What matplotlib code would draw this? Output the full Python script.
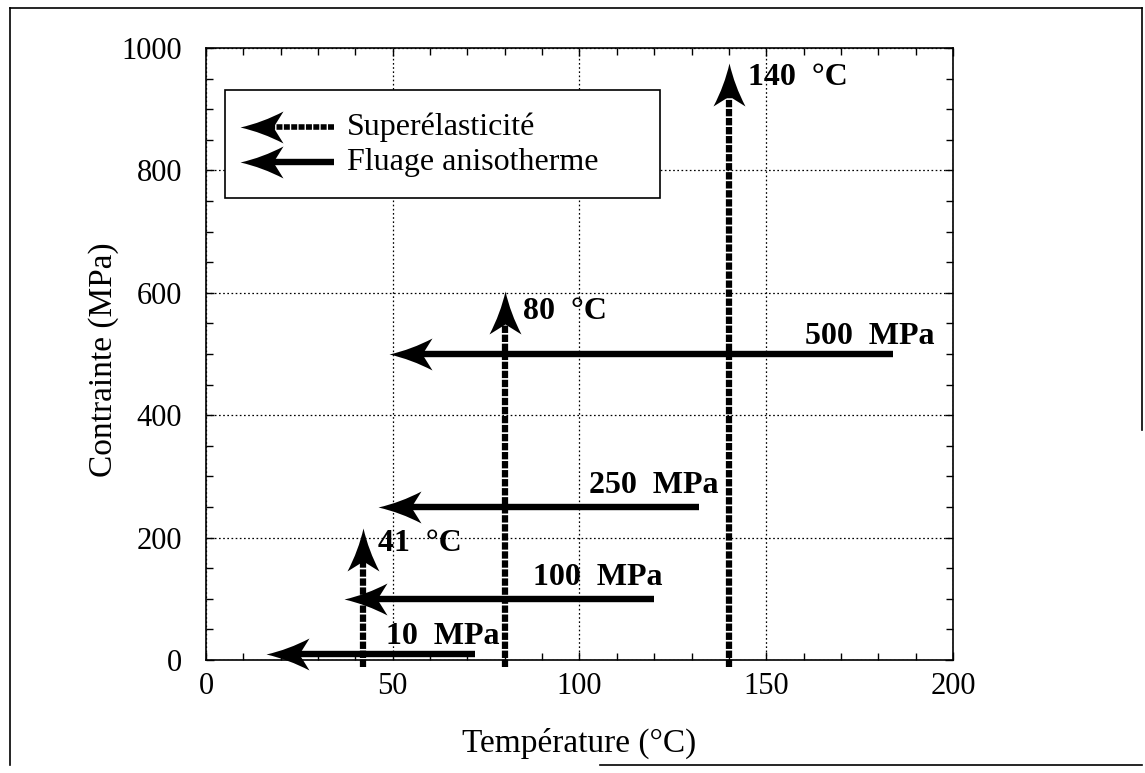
import matplotlib
matplotlib.use('Agg')
import matplotlib.pyplot as plt
from matplotlib.path import Path
from matplotlib.lines import Line2D
from matplotlib.patches import Rectangle
from matplotlib.ticker import MultipleLocator

plt.rcParams['font.family'] = ['Liberation Serif', 'DejaVu Serif']
plt.rcParams['lines.scale_dashes'] = False

# Superelasticity tests (vertical dashed arrows)
super_temps = [42, 80, 140]
super_tops = [215, 603, 975]
super_labels = ['41  °C', '80  °C', '140  °C']

# Anisothermal creep tests (horizontal arrows, cooling)
creep_stress = [10, 100, 250, 500]
creep_start = [72, 120, 132, 184]
creep_end = [16, 37, 46, 49]
creep_labels = ['10  MPa', '100  MPa', '250  MPa', '500  MPa']

# arrow head geometry in pixels
HEAD_L, HEAD_W, HEAD_N = 43, 16, 33


def head_marker(direction):
    verts = [(0, 0), (-5, -22), (-HEAD_W, -HEAD_L), (0, -HEAD_N),
             (HEAD_W, -HEAD_L), (5, -22), (0, 0), (0, 0)]
    if direction == 'left':
        verts = [(-y, x) for x, y in verts]
    codes = [Path.MOVETO, Path.CURVE3, Path.CURVE3, Path.LINETO,
             Path.LINETO, Path.CURVE3, Path.CURVE3, Path.CLOSEPOLY]
    return Path(verts, codes)


head_ms = 2 * HEAD_L * 72 / 100

fig = plt.figure(figsize=(11.45, 7.73), dpi=100)
ax = fig.add_axes([0.1799, 0.1462, 0.6524, 0.7917])
ax.set_xlim(0, 200)
ax.set_ylim(0, 1000)

ax.xaxis.set_major_locator(MultipleLocator(50))
ax.xaxis.set_minor_locator(MultipleLocator(10))
ax.yaxis.set_major_locator(MultipleLocator(200))
ax.yaxis.set_minor_locator(MultipleLocator(50))
ax.tick_params(which='both', direction='in', top=True, right=True, width=1)
ax.tick_params(which='major', length=6)
ax.tick_params(which='minor', length=5)
ax.tick_params(axis='x', labelsize=22, pad=9)
ax.tick_params(axis='y', labelsize=22, pad=17)
for s in ax.spines.values():
    s.set_linewidth(1.2)
ax.grid(True, which='major', color='black', linestyle=(0, (1.2, 1.8)), linewidth=0.9)

ax.set_xlabel('Température (°C)', fontsize=24)
ax.set_ylabel('Contrainte (MPa)', fontsize=24)
ax.xaxis.set_label_coords(0.5, -0.11)
ax.yaxis.set_label_coords(-0.117, 0.49)

# pixel -> data conversion for the notch offset
pos = ax.get_position()
px_x = pos.width * fig.get_figwidth() * fig.dpi / 200
px_y = pos.height * fig.get_figheight() * fig.dpi / 1000

up = head_marker('up')
left = head_marker('left')

for t, top in zip(super_temps, super_tops):
    ax.plot([t, t], [-12, top - HEAD_N / px_y], color='black', lw=4.5,
            dashes=(5.3, 1.2), dash_capstyle='butt', clip_on=False, zorder=4)
    ax.plot([t], [top], marker=up, ms=head_ms, color='black', mec='none',
            ls='none', clip_on=False, zorder=5)

for y, x0, x1 in zip(creep_stress, creep_start, creep_end):
    ax.plot([x0, x1 + HEAD_N / px_x], [y, y], color='black', lw=4.6,
            solid_capstyle='butt', clip_on=False, zorder=4)
    ax.plot([x1], [y], marker=left, ms=head_ms, color='black', mec='none',
            ls='none', clip_on=False, zorder=5)

temp_label_pos = [(46.0, 190), (84.9, 569), (145.1, 952)]
for (x, y), lab in zip(temp_label_pos, super_labels):
    ax.text(x, y, lab, fontsize=23, fontweight='bold', ha='left', va='center', zorder=6)

creep_label_pos = [(48.2, 38), (87.5, 134), (102.5, 285), (160.4, 529)]
for (x, y), lab in zip(creep_label_pos, creep_labels):
    ax.text(x, y, lab, fontsize=23, fontweight='bold', ha='left', va='center', zorder=6)

# legend drawn by hand
ax.add_patch(Rectangle((0.026, 0.755), 0.582, 0.176, transform=ax.transAxes,
                       facecolor='white', edgecolor='black', lw=1.2, zorder=3))
notch = HEAD_N / (pos.width * fig.get_figwidth() * fig.dpi)
ax.plot([0.171, 0.045 + notch], [0.871, 0.871], transform=ax.transAxes, color='black',
        lw=4.0, dashes=(4.3, 1.0), dash_capstyle='butt', zorder=4)
ax.plot([0.045], [0.871], transform=ax.transAxes, marker=left, ms=head_ms,
        color='black', mec='none', ls='none', zorder=5)
ax.plot([0.171, 0.045 + notch], [0.814, 0.814], transform=ax.transAxes, color='black',
        lw=4.6, solid_capstyle='butt', zorder=4)
ax.plot([0.045], [0.814], transform=ax.transAxes, marker=left, ms=head_ms,
        color='black', mec='none', ls='none', zorder=5)
ax.text(0.189, 0.858, 'Superélasticité', transform=ax.transAxes, fontsize=23,
        va='baseline', zorder=6)
ax.text(0.189, 0.801, 'Fluage anisotherme', transform=ax.transAxes, fontsize=23,
        va='baseline', zorder=6)

# scanned page frame
frame = [([0.0087, 0.0087], [0.9897, 0.0103]),
         ([0.0087, 0.9974], [0.9897, 0.9897]),
         ([0.9974, 0.9974], [0.9897, 0.4437]),
         ([0.524, 0.9974], [0.0103, 0.0103])]
for xs, ys in frame:
    fig.add_artist(Line2D(xs, ys, transform=fig.transFigure, color='black', lw=1.2))

fig.savefig('out.png', dpi=100)
